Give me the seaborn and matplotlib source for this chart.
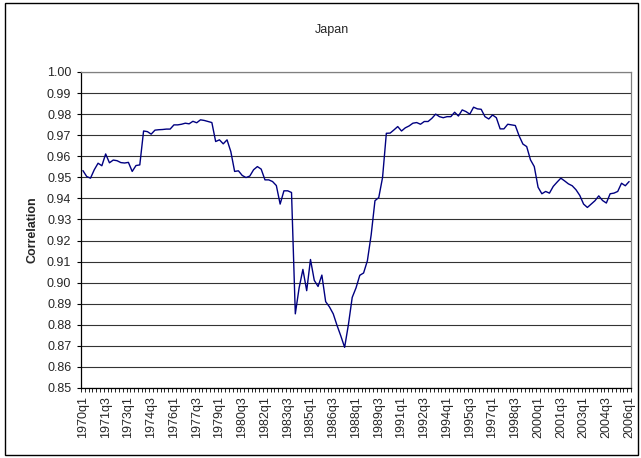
import numpy as np
import pandas as pd
import matplotlib
matplotlib.use("Agg")
import matplotlib.pyplot as plt
import seaborn as sns
from matplotlib.patches import Rectangle

# quarterly categories 1970q1 .. 2006q1
years = list(range(1970, 2007))
quarters = [f"{y}q{q}" for y in years for q in range(1, 5)][:145]

correlation = [
    0.9532, 0.9504, 0.9496, 0.9536, 0.9567, 0.9555, 0.9611, 0.9569, 0.9582, 0.9579,
    0.9570, 0.9568, 0.9571, 0.9528, 0.9556, 0.9559, 0.9720, 0.9717, 0.9705, 0.9724,
    0.9726, 0.9727, 0.9729, 0.9729, 0.9749, 0.9749, 0.9752, 0.9757, 0.9754, 0.9766,
    0.9759, 0.9773, 0.9770, 0.9765, 0.9760, 0.9670, 0.9678, 0.9659, 0.9678, 0.9622,
    0.9528, 0.9531, 0.9509, 0.9499, 0.9506, 0.9536, 0.9551, 0.9539, 0.9488, 0.9488,
    0.9480, 0.9461, 0.9373, 0.9436, 0.9436, 0.9428, 0.8852, 0.8975, 0.9063, 0.8962,
    0.9110, 0.9011, 0.8982, 0.9036, 0.8910, 0.8885, 0.8852, 0.8797, 0.8747, 0.8693,
    0.8801, 0.8930, 0.8975, 0.9035, 0.9046, 0.9104, 0.9227, 0.9389, 0.9404, 0.9499,
    0.9709, 0.9710, 0.9725, 0.9741, 0.9720, 0.9735, 0.9744, 0.9757, 0.9760, 0.9752,
    0.9765, 0.9765, 0.9780, 0.9800, 0.9788, 0.9783, 0.9788, 0.9788, 0.9809, 0.9791,
    0.9820, 0.9812, 0.9800, 0.9833, 0.9825, 0.9823, 0.9788, 0.9777, 0.9796, 0.9783,
    0.9730, 0.9730, 0.9752, 0.9749, 0.9746, 0.9697, 0.9658, 0.9646, 0.9583, 0.9551,
    0.9453, 0.9422, 0.9433, 0.9425, 0.9457, 0.9477, 0.9496, 0.9483, 0.9469, 0.9460,
    0.9441, 0.9414, 0.9373, 0.9357, 0.9373, 0.9389, 0.9412, 0.9390, 0.9378, 0.9422,
    0.9425, 0.9433, 0.9472, 0.9460, 0.9480,
]

tick_labels = [
    "1970q1", "1971q3", "1973q1", "1974q3", "1976q1", "1977q3", "1979q1",
    "1980q3", "1982q1", "1983q3", "1985q1", "1986q3", "1988q1", "1989q3",
    "1991q1", "1992q3", "1994q1", "1995q3", "1997q1", "1998q3", "2000q1",
    "2001q3", "2003q1", "2004q3", "2006q1",
]
y_ticks = [0.85, 0.86, 0.87, 0.88, 0.89, 0.90, 0.91, 0.92, 0.93, 0.94,
           0.95, 0.96, 0.97, 0.98, 0.99, 1.00]

df = pd.DataFrame({"quarter": quarters, "corr": correlation})
df["pos"] = np.arange(len(df))

sns.set_theme(style="white")
plt.rcParams["font.family"] = ["Liberation Sans", "DejaVu Sans"]

fig = plt.figure(figsize=(6.41, 4.58), dpi=100)
ax = fig.add_axes([81 / 641, 1 - 388 / 458, 550 / 641, 316 / 458])

sns.lineplot(data=df, x="pos", y="corr", ax=ax, color="#000080", linewidth=1.0)

ax.set_xlim(-0.5, len(df) - 0.5)
ax.set_ylim(0.85, 1.00)
ax.set_yticks(y_ticks)
ax.set_yticklabels([f"{v:.2f}" for v in y_ticks], fontsize=9)
ax.yaxis.grid(True, color="#333333", linewidth=0.8)
ax.set_axisbelow(True)

label_pos = [df.loc[df["quarter"] == q, "pos"].iloc[0] for q in tick_labels]
ax.set_xticks(label_pos)
ax.set_xticklabels(tick_labels, rotation=90, fontsize=9)
ax.set_xticks(np.arange(-0.5, len(df), 1), minor=True)
ax.tick_params(axis="x", which="major", length=0, pad=6)
ax.tick_params(axis="x", which="minor", length=3, width=0.6, color="black", bottom=True)
ax.tick_params(axis="y", length=3, width=0.8, color="black", left=True, pad=4)

ax.set_xlabel("")
ax.set_ylabel("Correlation", fontsize=9, fontweight="bold", labelpad=6)

for s in ["left", "bottom"]:
    ax.spines[s].set_color("black")
    ax.spines[s].set_linewidth(0.9)
for s in ["top", "right"]:
    ax.spines[s].set_color("#808080")
    ax.spines[s].set_linewidth(0.9)

fig.text(332 / 641, 1 - 30 / 458, "Japan", ha="center", va="center", fontsize=9)

fig.patches.append(Rectangle((5 / 641, 3 / 458), 633 / 641, 452 / 458,
                             transform=fig.transFigure, fill=False,
                             edgecolor="black", linewidth=1.0))

fig.savefig("out.png", dpi=100)
